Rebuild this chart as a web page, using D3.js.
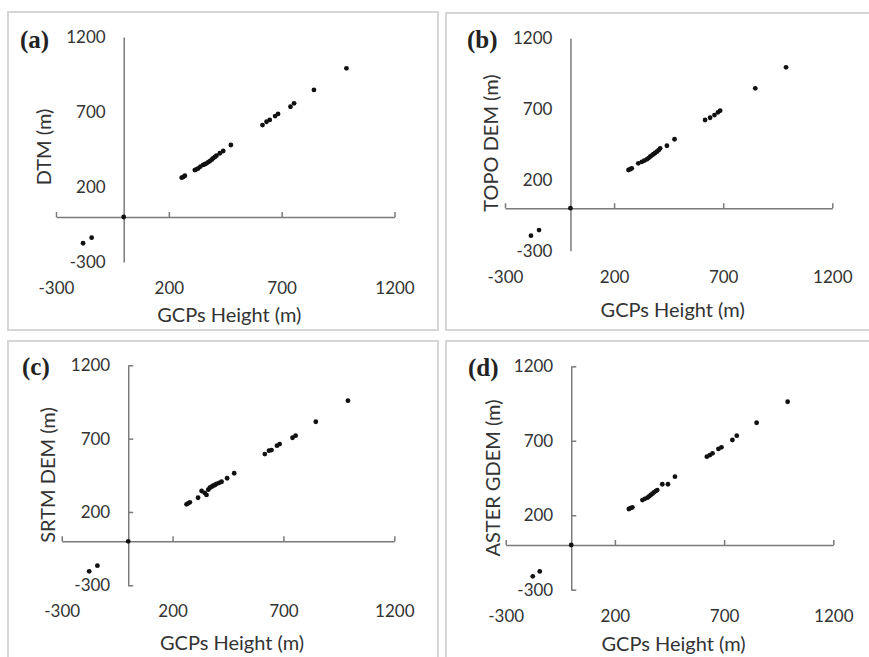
<!DOCTYPE html>
<html><head><meta charset="utf-8">
<script src="https://cdn.jsdelivr.net/npm/d3@7/dist/d3.min.js"></script>
<style>body{margin:0;background:#fff} svg{display:block}</style>
</head><body><svg id="chart" width="869" height="657"></svg>
<script>
// ---- data ----
const tickValues = [-300, 200, 700, 1200];
const panelLetters = ["(a)", "(b)", "(c)", "(d)"];
const yTitles = ["DTM (m)", "TOPO DEM (m)", "SRTM DEM (m)", "ASTER GDEM (m)"];
const xTitle = "GCPs Height (m)";

const gcpA = [-180, -142, 0, 257, 265, 271, 315, 322, 330, 340, 352, 360, 367, 375, 382, 390, 396, 404, 411, 426, 441, 475, 615, 633, 647, 671, 684, 739, 755, 843, 987];
const dtm  = [-175, -138, 0, 262, 268, 275, 313, 318, 324, 336, 347, 352, 358, 366, 373, 382, 391, 400, 409, 425, 440, 480, 613, 635, 647, 673, 687, 735, 758, 847, 991];

const gcpB = [-181, -144, 0, 266, 274, 281, 311, 327, 338, 350, 358, 365, 372, 380, 388, 396, 404, 411, 442, 477, 617, 640, 660, 676, 686, 847, 988];
const topo = [-194, -154, 0, 270, 276, 282, 317, 328, 336, 345, 354, 364, 372, 381, 390, 399, 410, 423, 441, 487, 623, 639, 658, 677, 689, 847, 995];

const gcpC = [-176, -139, 0, 263, 270, 278, 315, 331, 345, 353, 361, 368, 376, 383, 391, 398, 410, 421, 446, 478, 616, 635, 646, 671, 683, 741, 755, 846, 991];
const srtm = [-205, -166, 0, 252, 259, 266, 297, 343, 330, 316, 352, 365, 372, 379, 384, 391, 399, 406, 430, 464, 595, 618, 622, 652, 663, 706, 720, 815, 959];

const gcpD = [-176, -144, 0, 264, 272, 280, 326, 337, 349, 357, 364, 372, 379, 387, 394, 417, 443, 475, 621, 635, 647, 674, 688, 738, 758, 849, 991];
const aster= [-210, -177, 0, 242, 248, 253, 302, 310, 318, 327, 336, 345, 354, 362, 369, 408, 408, 459, 593, 604, 616, 645, 656, 705, 734, 821, 962];

const seriesX = [gcpA, gcpB, gcpC, gcpD];
const seriesY = [dtm, topo, srtm, aster];

// ---- layout ----
const panels = [
  {box:[8,12,438,330],  xr:[56,394.5],   yr:[262,37],    yTicks:false, xTitleY:314, yTitleX:43,  yTitleY:147, letter:[20,39]},
  {box:[446,13,880,330],xr:[505,832.3],  yr:[250.7,38.3],yTicks:false, xTitleY:309, yTitleX:490, yTitleY:143, letter:[467,39]},
  {box:[8,341,438,670], xr:[61.7,394.3], yr:[585.3,365.3],yTicks:true, xTitleY:642, yTitleX:47,  yTitleY:475, letter:[22,366]},
  {box:[446,341,880,670],xr:[505.7,833.3],yr:[589.7,366.3],yTicks:true,xTitleY:643, yTitleX:492, yTitleY:478, letter:[468,367]}
];

const svg = d3.select("#chart");
const axisColor = "#7a7a7a";
const textColor = "#333";
const tickFont = "Lato, 'Open Sans', sans-serif";
const fmt = d => String(d);

panels.forEach((p, i) => {
  svg.append("rect")
    .attr("x", p.box[0]).attr("y", p.box[1])
    .attr("width", p.box[2]-p.box[0]).attr("height", p.box[3]-p.box[1])
    .attr("fill", "none").attr("stroke", "#d6d6d6").attr("stroke-width", 2);

  const x = d3.scaleLinear().domain([-300, 1200]).range(p.xr);
  const y = d3.scaleLinear().domain([-300, 1200]).range(p.yr);
  const g = svg.append("g");

  const xa = g.append("g").attr("transform", `translate(0,${y(0)})`)
    .call(d3.axisTop(x).tickValues(tickValues).tickSize(5).tickSizeOuter(0).tickFormat(""));
  xa.selectAll("path,line").attr("stroke", axisColor).attr("stroke-width", 1.5);

  const ya = g.append("g").attr("transform", `translate(${x(0)},0)`)
    .call(d3.axisRight(y).tickValues(tickValues).tickSize(p.yTicks ? 5 : 0).tickSizeOuter(0).tickFormat(""));
  ya.selectAll("path,line").attr("stroke", axisColor).attr("stroke-width", 1.5);

  const yl = g.append("g").attr("transform", `translate(${x(0)},0)`)
    .call(d3.axisLeft(y).tickValues(tickValues).tickSize(0).tickPadding(18).tickFormat(fmt));
  yl.select(".domain").remove();
  yl.selectAll("text").attr("font-family", tickFont).attr("font-size", 17).attr("fill", textColor);

  const xl = g.append("g").attr("transform", `translate(0,${y(-300)})`)
    .call(d3.axisBottom(x).tickValues(tickValues).tickSize(0).tickPadding(20).tickFormat(fmt));
  xl.select(".domain").remove();
  xl.selectAll("text").attr("font-family", tickFont).attr("font-size", 17).attr("fill", textColor);

  g.append("text").attr("x", (p.xr[0]+p.xr[1])/2 + 4).attr("y", p.xTitleY)
    .attr("text-anchor", "middle").attr("dominant-baseline", "central")
    .attr("font-family", tickFont).attr("font-size", 20).attr("fill", textColor).text(xTitle);
  g.append("text").attr("transform", `translate(${p.yTitleX},${p.yTitleY}) rotate(-90)`)
    .attr("text-anchor", "middle").attr("dominant-baseline", "central")
    .attr("font-family", tickFont).attr("font-size", 20).attr("fill", textColor).text(yTitles[i]);
  g.append("text").attr("x", p.letter[0]).attr("y", p.letter[1])
    .attr("dominant-baseline", "central")
    .attr("font-family", "'Liberation Serif', 'Times New Roman', serif").attr("font-weight", "bold")
    .attr("font-size", 25).attr("fill", "#222").text(panelLetters[i]);

  const pts = seriesX[i].map((v, k) => [v, seriesY[i][k]]);
  g.append("g").selectAll("circle").data(pts).join("circle")
    .attr("cx", d => x(d[0])).attr("cy", d => y(d[1])).attr("r", 2.4).attr("fill", "#111");
});
</script></body></html>
